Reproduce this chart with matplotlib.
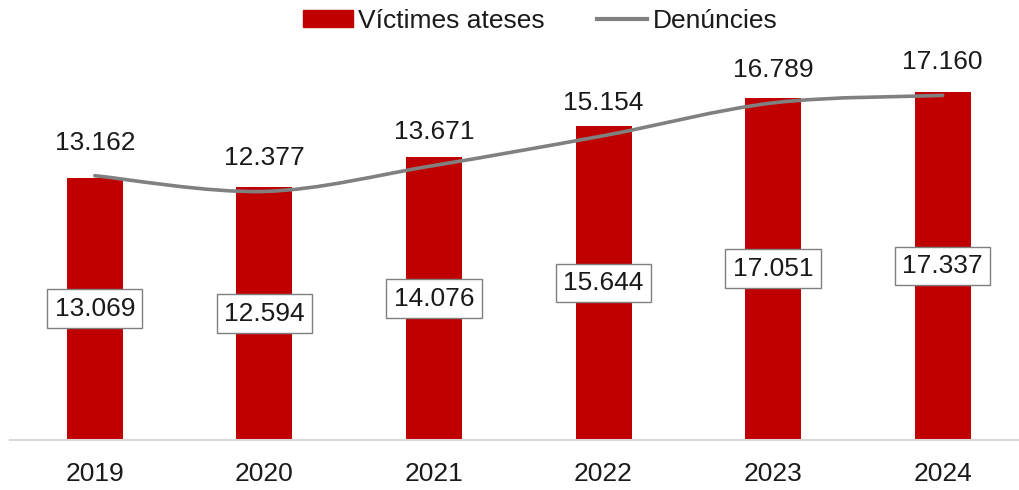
import matplotlib
matplotlib.use('Agg')
from matplotlib import pyplot as plt
from matplotlib.path import Path
from matplotlib.patches import PathPatch, Patch
from matplotlib.lines import Line2D

years = ['2019', '2020', '2021', '2022', '2023', '2024']
victimes = [13069, 12594, 14076, 15644, 17051, 17337]
denuncies = [13162, 12377, 13671, 15154, 16789, 17160]

RED = '#C00000'
GREY = '#808080'

plt.rcParams['font.family'] = ['Liberation Sans', 'DejaVu Sans']


def fmt(v): return f'{v:,}'.replace(',', '.')


def smooth_path(xs, ys):
    # excel-like smoothed line: cubic bezier through every point
    pts = list(zip(xs, ys));n = len(pts)
    verts = [pts[0]];codes = [Path.MOVETO]
    for i in range(n - 1):
        p0 = pts[i - 1] if i > 0 else pts[i];p1 = pts[i];p2 = pts[i + 1];p3 = pts[i + 2] if i + 2 < n else pts[i + 1]
        c1 = (p1[0] + (p2[0] - p0[0]) / 6, p1[1] + (p2[1] - p0[1]) / 6)
        c2 = (p2[0] - (p3[0] - p1[0]) / 6, p2[1] - (p3[1] - p1[1]) / 6)
        verts += [c1, c2, p2];codes += [Path.CURVE4] * 3
    return Path(verts, codes)


fig = plt.figure(figsize=(10.19, 4.9), dpi=100)
ax = fig.add_axes([10 / 1019, 50 / 490, 1009 / 1019, 401.6 / 490])
x = list(range(len(years)))
ax.bar(x, victimes, width=0.33, color=RED, zorder=2)
ax.add_patch(PathPatch(smooth_path(x, denuncies), fill=False, edgecolor=GREY, lw=2.6, capstyle='round', zorder=3))

for i, v in enumerate(victimes):
    ax.text(i, v / 2, fmt(v), ha='center', va='center', fontsize=19, color='#1a1a1a', zorder=4,
            bbox=dict(boxstyle='square,pad=0.28', fc='white', ec='#7F7F7F', lw=1))
for i, v in enumerate(denuncies):
    ax.annotate(fmt(v), (i, v), xytext=(0, 33), textcoords='offset pixels', ha='center', va='center',
                fontsize=19, color='#1a1a1a', zorder=4)

ax.set_xlim(-0.5, 5.45)
ax.set_ylim(0, 20000)
ax.set_xticks(x)
ax.set_xticklabels(years, fontsize=19, color='#1a1a1a')
ax.tick_params(axis='x', length=0, pad=16)
ax.set_yticks([])
for s in ['top', 'right', 'left']: ax.spines[s].set_visible(False)
ax.spines['bottom'].set_color('#D9D9D9');ax.spines['bottom'].set_linewidth(1.5)

handles = [Patch(facecolor=RED, edgecolor=RED), Line2D([0], [0], color=GREY, lw=3)]
fig.legend(handles, ['Víctimes ateses', 'Denúncies'], loc='center', bbox_to_anchor=(540 / 1019, 1 - 21 / 490),
           ncol=2, frameon=False, fontsize=19, handlelength=1.9, handleheight=0.6, handletextpad=0.2,
           columnspacing=2.0, labelcolor='#1a1a1a')

fig.savefig('out.png', dpi=100)
plt.close()
